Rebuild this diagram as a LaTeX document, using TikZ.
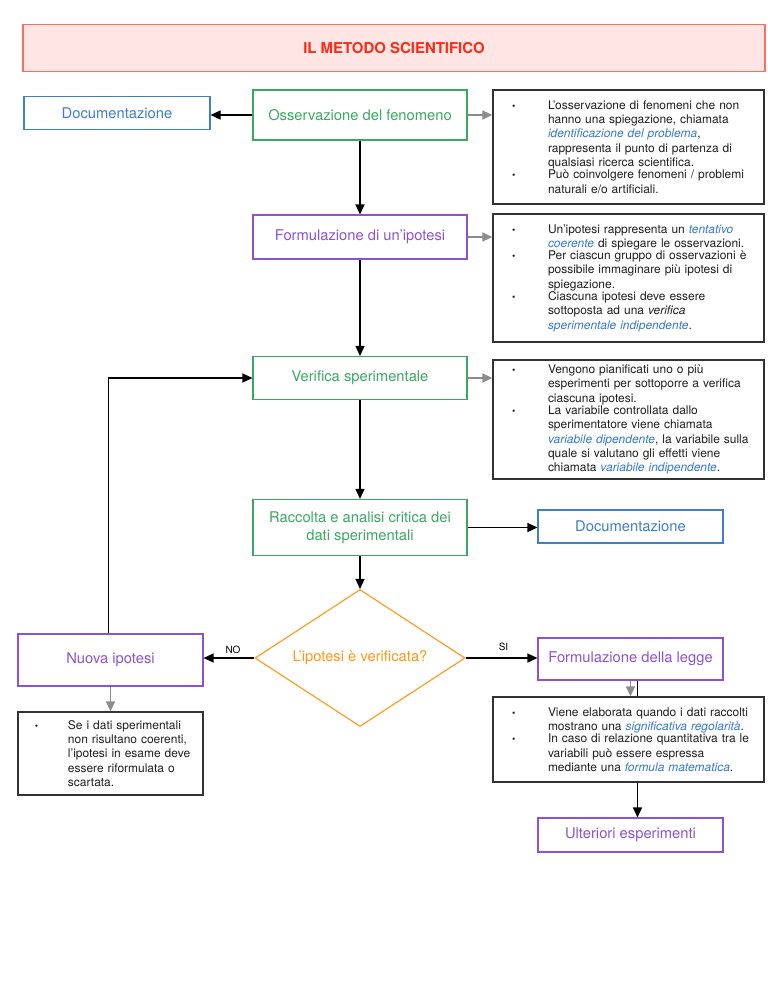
\documentclass[tikz,border=0pt]{standalone}
\usepackage{fontspec}
\setmainfont{TeX Gyre Heros}
\usetikzlibrary{arrows.meta,shapes.geometric}
\pgfdeclarelayer{background}
\pgfsetlayers{background,main}
\definecolor{gcol}{RGB}{58,168,98}
\definecolor{bcol}{RGB}{62,126,204}
\definecolor{pcol}{RGB}{140,82,214}
\definecolor{ocol}{RGB}{255,152,20}
\definecolor{tfill}{RGB}{255,230,228}
\definecolor{tdraw}{RGB}{250,110,95}
\definecolor{ttext}{RGB}{255,40,20}
\definecolor{lcol}{RGB}{52,120,210}
\definecolor{gcon}{RGB}{140,140,140}
\definecolor{tbdraw}{RGB}{50,50,50}
\definecolor{tbtext}{RGB}{30,30,30}
\newcommand\lk[1]{\textcolor{lcol}{\textit{#1}}}
\newlength\bulind \newlength\bulpos \newlength\bulw
\newcommand\bul[1]{\noindent\makebox[\bulind][l]{\hspace{\bulpos}{\fontsize{9.5}{9.5}\selectfont\textbullet}}\parbox[t]{\bulw}{\raggedright #1}\par}
\begin{document}
\begin{tikzpicture}[x=1bp,y=-1bp,
  proc/.style={draw, line width=1.1bp, inner sep=0pt, align=center,
    font=\fontsize{14.8}{18}\selectfont},
  greenc/.style={draw=gcol, text=gcol},
  bluec/.style={draw=bcol, text=bcol},
  purplec/.style={draw=pcol, text=pcol},
  tbox/.style={draw=tbdraw, line width=1.3bp, fill=white, inner sep=0pt, text=tbtext,
    text width=271bp, minimum width=271bp,
    font=\fontsize{12}{14.3}\selectfont\setlength\bulind{55bp}\setlength\bulpos{19bp}\setlength\bulw{214bp}},
  tboxs/.style={draw=tbdraw, line width=1.3bp, fill=white, inner sep=0pt, text=tbtext,
    text width=185bp, minimum width=185bp,
    font=\fontsize{12}{14.3}\selectfont\setlength\bulind{50bp}\setlength\bulpos{17bp}\setlength\bulw{132bp}},
  blk/.style={draw=black, line width=1.5bp, -{Triangle[length=10bp,width=9bp]}},
  gry/.style={draw=gcon, line width=1.5bp, -{Triangle[length=10bp,width=9bp]}},
  lab/.style={font=\fontsize{10}{12}\selectfont, text=black}
]
\begin{pgfonlayer}{background}
\fill[white] (0,0) rectangle (768,994);
\end{pgfonlayer}
\path[use as bounding box] (0,0) rectangle (768,994);

\node[draw=tdraw, fill=tfill, line width=1.5bp, minimum width=742bp, minimum height=47bp,
  text=ttext, font=\fontsize{15}{17}\selectfont\bfseries] (title) at (394,48) {IL METODO SCIENTIFICO};

\node[proc, bluec, minimum width=186bp, minimum height=33bp] (doc1) at (117,113) {Documentazione};
\node[proc, greenc, minimum width=214bp, minimum height=50bp] (oss) at (360,115) {Osservazione del fenomeno};
\node[tbox, minimum height=114bp] (tb1) at (628.5,147) {%
\bul{L’osservazione di fenomeni che non\\hanno una spiegazione, chiamata\\\lk{identificazione del problema},\\rappresenta il punto di partenza di\\qualsiasi ricerca scientifica.}
\bul{Può coinvolgere fenomeni / problemi\\naturali e/o artificiali.}};

\node[proc, purplec, minimum width=214bp, minimum height=44bp] (form) at (360,237) {Formulazione di un’ipotesi};
\node[tbox, minimum height=128bp] (tb2) at (628.5,278) {%
\bul{Un’ipotesi rappresenta un \lk{tentativo}\\\lk{coerente} di spiegare le osservazioni.}
\bul{Per ciascun gruppo di osservazioni è\\possibile immaginare più ipotesi di\\spiegazione.}
\bul{Ciascuna ipotesi deve essere\\sottoposta ad una \textit{verifica}\\\lk{sperimentale indipendente}.}};

\node[proc, greenc, minimum width=214bp, minimum height=43bp] (verif) at (360,378) {Verifica sperimentale};
\node[tbox, minimum height=119bp] (tb3) at (628.5,419.5) {%
\bul{Vengono pianificati uno o più\\esperimenti per sottoporre a verifica\\ciascuna ipotesi.}
\bul{La variabile controllata dallo\\sperimentatore viene chiamata\\\lk{variabile dipendente}, la variabile sulla\\quale si valutano gli effetti viene\\chiamata \lk{variabile indipendente}.}};

\node[proc, greenc, minimum width=214bp, minimum height=56bp] (racc) at (360,527.5) {Raccolta e analisi critica dei\\dati sperimentali};
\node[proc, bluec, minimum width=185bp, minimum height=33bp] (doc2) at (630.5,526.5) {Documentazione};

\node[diamond, draw=ocol, text=ocol, line width=1.1bp, minimum width=210bp, minimum height=137bp,
  inner sep=0pt, aspect=1.53, font=\fontsize{14.8}{18}\selectfont] (dia) at (360,658) {L’ipotesi è verificata?};

\node[proc, purplec, minimum width=185bp, minimum height=52bp] (nuova) at (110.5,660) {Nuova ipotesi};
\node[tboxs, minimum height=83bp] (tb4) at (110.5,753.5) {%
\bul{Se i dati sperimentali\\non risultano coerenti,\\l’ipotesi in esame deve\\essere riformulata o\\scartata.}};

\node[proc, purplec, minimum width=185bp, minimum height=42bp] (legge) at (630.5,659) {Formulazione della legge};
\node[tbox, minimum height=85bp] (tb5) at (628.5,739.5) {%
\bul{Viene elaborata quando i dati raccolti\\mostrano una \lk{significativa regolarità}.}
\bul{In caso di relazione quantitativa tra le\\variabili può essere espressa\\mediante una \lk{formula matematica}.}};
\node[proc, purplec, minimum width=185bp, minimum height=34bp] (ulter) at (630.5,835) {Ulteriori esperimenti};

\draw[blk] (oss.west) -- (oss.west -| doc1.east);
\draw[gry] (oss.east) -- (oss.east -| tb1.west);
\draw[blk] (oss) -- (form);
\draw[gry] (form.east) -- (form.east -| tb2.west);
\draw[blk] (form) -- (verif);
\draw[gry] (verif.east) -- (verif.east -| tb3.west);
\draw[blk] (verif) -- (racc);
\draw[blk] (racc.east) -- (racc.east -| doc2.west);
\draw[blk] (racc) -- (dia);
\draw[blk] (dia.west) -- (dia.west -| nuova.east) node[lab, midway, above, xshift=4bp] {NO};
\draw[blk] (dia.east) -- (dia.east -| legge.west) node[lab, midway, above, xshift=2bp, yshift=3bp] {SI};
\draw[blk] ([xshift=-2bp]nuova.north) |- (verif.west);
\draw[gry] (nuova) -- (tb4);
\draw[gry] (legge.south) -- (legge.south |- tb5.north);
\begin{pgfonlayer}{background}
\draw[blk] ([xshift=7bp]legge.south) -- ([xshift=7bp]legge.south |- ulter.north);
\end{pgfonlayer}
\end{tikzpicture}
\end{document}
